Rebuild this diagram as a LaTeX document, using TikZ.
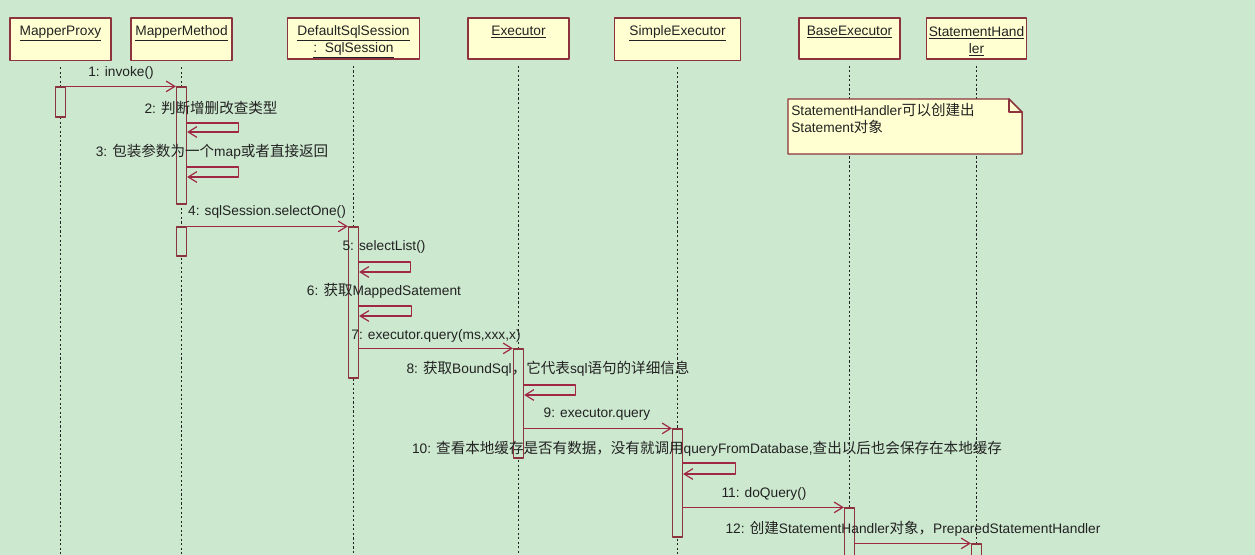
\documentclass[tikz,border=0pt]{standalone}
\usepackage{fontspec}
\setmainfont{Liberation Sans}
\newfontfamily\cjk[Scale=1.06]{Noto Sans CJK SC}
\usepackage{tikz}
\usetikzlibrary{arrows.meta}
\usetikzlibrary{fit}
\definecolor{cceycf}{rgb}{0.8,0.9098039215686274,0.8117647058823529}
\definecolor{ffffcc}{rgb}{1.,1.,0.82}
\definecolor{zzttuu}{rgb}{0.55,0.2,0.24}
\definecolor{aqsyuu}{rgb}{0.6274509803921569,0.1568627450980392,0.26666666666666666}
\definecolor{ssssss}{rgb}{0.13333333333333333,0.13333333333333333,0.13333333333333333}
\begin{document}
\begin{tikzpicture}[line cap=round,line join=round,>={Straight Barb[length=6.5pt,width=8pt]},x=0.75pt,y=-0.75pt,
font=\fontsize{10.3}{12.75}\selectfont,
obj/.style={draw=zzttuu,fill=ffffcc,line width=1.3pt,minimum height=30.75pt,inner sep=1pt,align=center,anchor=north,text=ssssss},
life/.style={draw=ssssss,line width=0.8pt,line cap=butt,dash pattern=on 1.6pt off 1.8pt},
act/.style={draw=zzttuu,fill=cceycf,line width=0.9pt,inner sep=0pt},
msg/.style={draw=aqsyuu,line width=0.9pt,->},
lbl/.style={text=ssssss,inner sep=0pt}]
\clip(0,0) rectangle (1255,555);
\fill [cceycf] (0,0) rectangle (1255,555);
\node [obj,minimum width=75.75pt] (mp) at (60.5,17) {\rule{0pt}{12pt}\underline{MapperProxy}\\ \strut};
\node [obj,minimum width=75.75pt] (mm) at (181.5,17) {\rule{0pt}{12pt}\underline{MapperMethod}\\ \strut};
\node [obj,minimum width=99pt] (ds) at (353.5,17) {\rule{0pt}{12pt}\underline{DefaultSqlSession}\\\underline{:\ \ SqlSession}};
\node [obj,minimum width=75.75pt] (ex) at (518.5,17) {\rule{0pt}{12pt}\underline{Executor}\\ \strut};
\node [obj,minimum width=94.5pt] (se) at (677.5,17) {\rule{0pt}{12pt}\underline{SimpleExecutor}\\ \strut};
\node [obj,minimum width=75.75pt] (be) at (849.5,17) {\rule{0pt}{12pt}\underline{BaseExecutor}\\ \strut};
\node [obj,minimum width=75pt] (sh) at (976.5,17) {\rule{0pt}{12pt}\underline{StatementHand}\\\underline{ler}};
\foreach \o in {mp,mm,ds,ex,se,be,sh}
  \draw [life] ([yshift=-4.5pt]\o.south) -- (\o.south |- 0,560);
\draw [draw=zzttuu,fill=ffffcc,line width=1.1pt] (788,99) -- (1009,99) -- (1022,112) -- (1022,154) -- (788,154) -- cycle;
\draw [draw=zzttuu,line width=1.1pt] (1009,99) |- (1022,112);
\node [lbl,anchor=north west,align=left] (nt) at (791,103) {StatementHandler{\cjk 可以创建出}\\Statement{\cjk 对象}};
\node [act,fit={(55.5,87) (65.5,117)}] (pxA) {};
\node [act,fit={(176.5,87) (186.5,204)}] (mmA) {};
\node [act,fit={(176.5,227) (186.5,256)}] (mmB) {};
\node [act,fit={(348.5,227) (358.5,378)}] (dsA) {};
\node [act,fit={(513.5,349) (523.5,458)}] (exA) {};
\node [act,fit={(672.5,429) (682.5,537)}] (seA) {};
\node [act,fit={(844.5,508) (854.5,570)}] (beA) {};
\node [act,fit={(971.5,544) (981.5,570)}] (shA) {};
\draw [msg] (pxA.north east) -- (mmA.north west);
\node [lbl] (l1) at (121,73) {1: invoke()};
\draw [msg] (mmA.east |- 0,123) -- ++(51,0) |- (mmA.east |- 0,132);
\node [lbl] (l2) at (211,108) {2: {\cjk 判断增删改查类型}};
\draw [msg] (mmA.east |- 0,167) -- ++(51,0) |- (mmA.east |- 0,177);
\node [lbl] (l3) at (212,152) {3: {\cjk 包装参数为一个}map{\cjk 或者直接返回}};
\draw [msg] (mmB.north east) -- (dsA.north west);
\node [lbl] (l4) at (267,212) {4: sqlSession.selectOne()};
\draw [msg] (dsA.east |- 0,262) -- ++(51,0) |- (dsA.east |- 0,272);
\node [lbl] (l5) at (384,247) {5: selectList()};
\draw [msg] (dsA.east |- 0,306) -- ++(52,0) |- (dsA.east |- 0,316);
\node [lbl] (l6) at (384,291) {6: {\cjk 获取}MappedSatement};
\draw [msg] (dsA.east |- exA.north) -- (exA.north west);
\node [lbl] (l7) at (436,336) {7: executor.query(ms,xxx,x)};
\draw [msg] (exA.east |- 0,385) -- ++(51,0) |- (exA.east |- 0,395);
\node [lbl] (l8) at (548,369) {8: {\cjk 获取}BoundSql{\cjk ，它代表}sql{\cjk 语句的详细信息}};
\draw [msg] (exA.east |- seA.north) -- (seA.north west);
\node [lbl] (l9) at (597,414) {9: executor.query};
\draw [msg] (seA.east |- 0,463) -- ++(52,0) |- (seA.east |- 0,474);
\node [lbl] (l10) at (707,449) {10: {\cjk 查看本地缓存是否有数据，没有就调用}queryFromDatabase,{\cjk 查出以后也会保存在本地缓存}};
\draw [msg] (seA.east |- beA.north) -- (beA.north west);
\node [lbl] (l11) at (764,494) {11: doQuery()};
\draw [msg] (beA.east |- shA.north) -- (shA.north west);
\node [lbl] (l12) at (913,529) {12: {\cjk 创建}StatementHandler{\cjk 对象，}PreparedStatementHandler};
\end{tikzpicture}
\end{document}
